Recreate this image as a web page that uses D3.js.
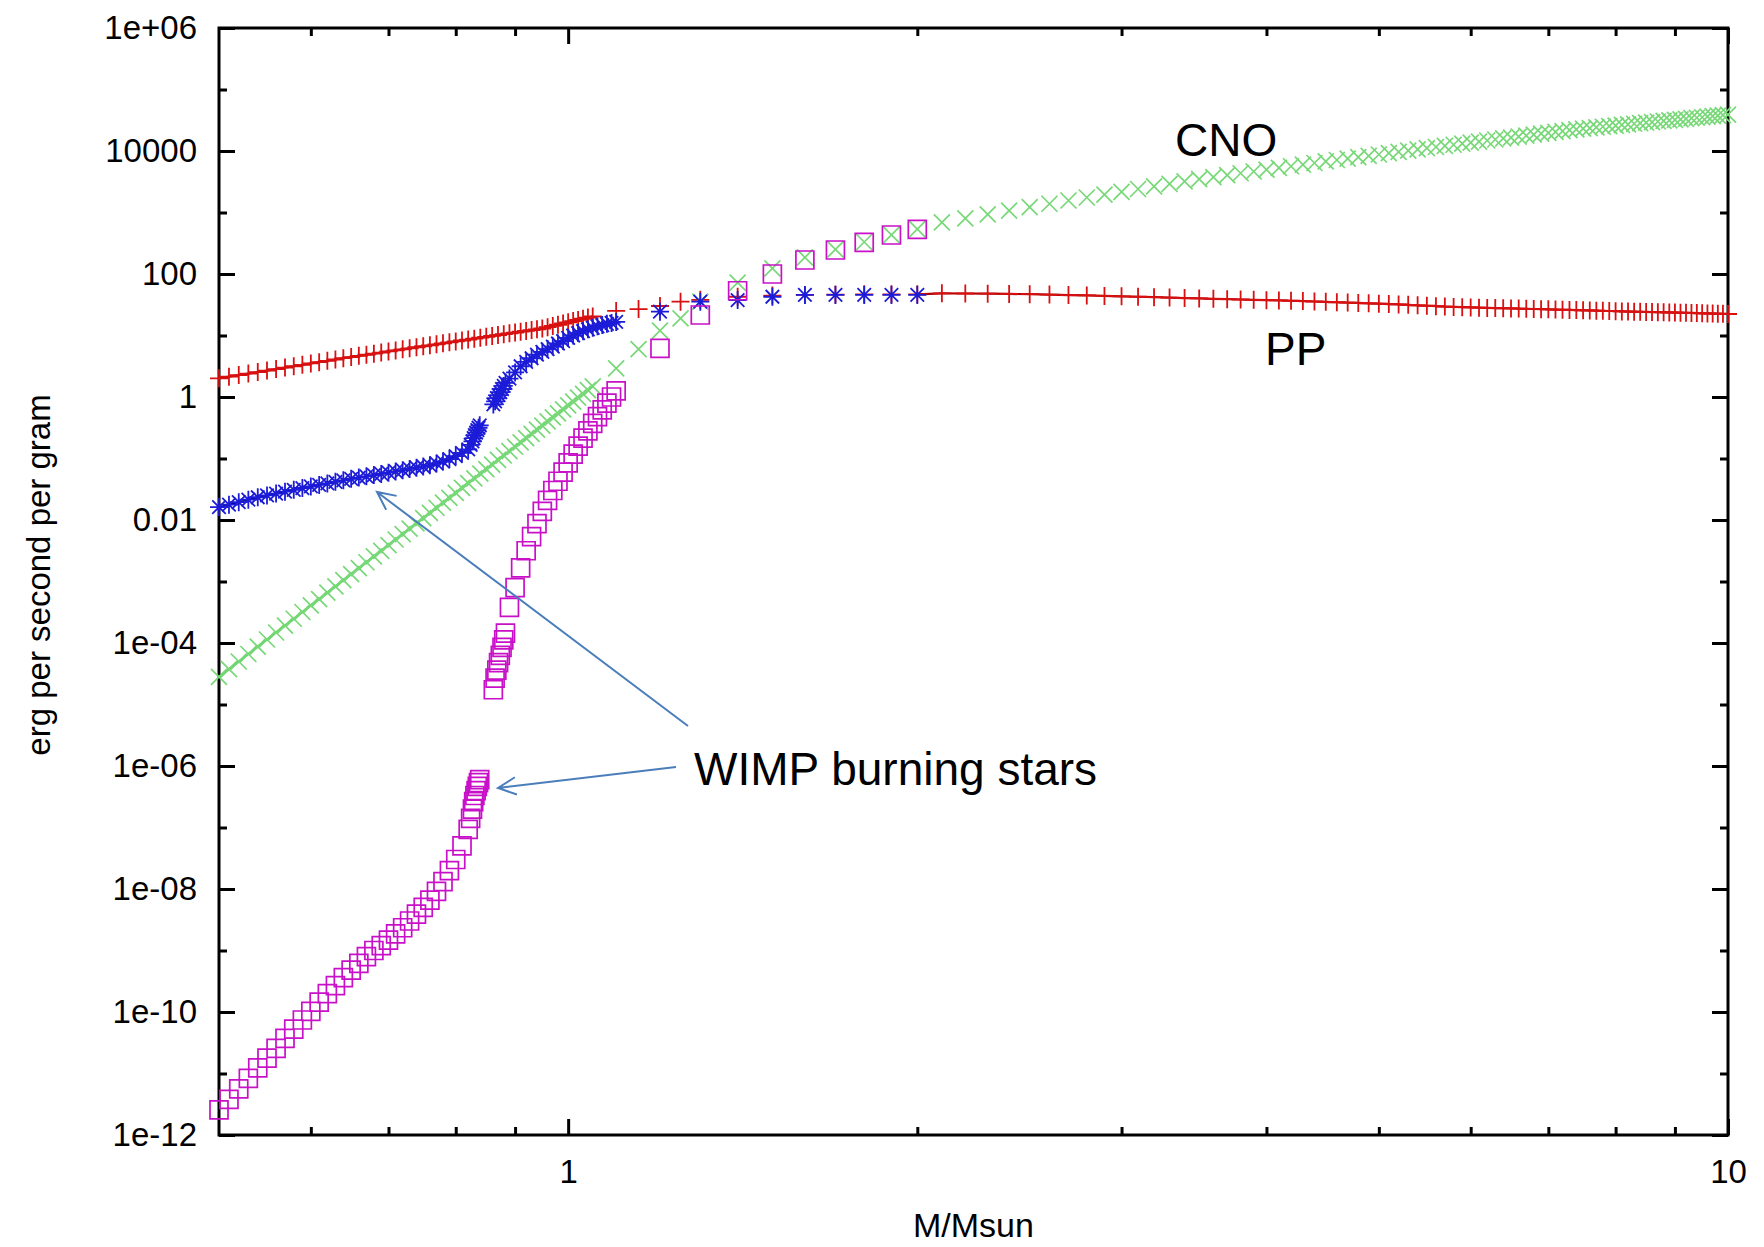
<!DOCTYPE html>
<html><head><meta charset="utf-8">
<script src="https://cdn.jsdelivr.net/npm/d3@7"></script>
<style>body{margin:0;background:#fff}svg{display:block}text{font-family:"Liberation Sans",Arial,Helvetica,sans-serif}</style>
</head><body><svg id="c" width="1764" height="1247"></svg>
<script>
// ---------- DATA (energy values given as log10 of erg per second per gram) ----------
const normalMass = [
  0.50,0.51,0.52,0.53,0.54,0.55,0.56,0.57,0.58,0.59,
  0.60,0.61,0.62,0.63,0.64,0.65,0.66,0.67,0.68,0.69,
  0.70,0.71,0.72,0.73,0.74,0.75,0.76,0.77,0.78,0.79,
  0.80,0.81,0.82,0.83,0.84,0.85,0.86,0.87,0.88,0.89,
  0.90,0.91,0.92,0.93,0.94,0.95,0.96,0.97,0.98,0.99,
  1.00,1.01,1.02,1.03,1.04,1.05,
  1.10,1.15,1.20,1.25,1.30,1.40,1.50,1.60,1.70,1.80,1.90,2.00,
  2.1,2.2,2.3,2.4,2.5,2.6,2.7,2.8,2.9,3.0,
  3.1,3.2,3.3,3.4,3.5,3.6,3.7,3.8,3.9,4.0,
  4.1,4.2,4.3,4.4,4.5,4.6,4.7,4.8,4.9,5.0,
  5.1,5.2,5.3,5.4,5.5,5.6,5.7,5.8,5.9,6.0,
  6.1,6.2,6.3,6.4,6.5,6.6,6.7,6.8,6.9,7.0,
  7.1,7.2,7.3,7.4,7.5,7.6,7.7,7.8,7.9,8.0,
  8.1,8.2,8.3,8.4,8.5,8.6,8.7,8.8,8.9,9.0,
  9.1,9.2,9.3,9.4,9.5,9.6,9.7,9.8,9.9,10.0
];
const ppLog = [
  0.304,0.330,0.356,0.381,0.406,0.430,0.454,0.478,0.500,0.523,
  0.546,0.567,0.589,0.610,0.631,0.650,0.669,0.687,0.705,0.723,
  0.741,0.758,0.775,0.792,0.809,0.825,0.841,0.857,0.873,0.889,
  0.904,0.919,0.934,0.949,0.964,0.978,0.993,1.007,1.021,1.035,
  1.048,1.062,1.075,1.088,1.101,1.114,1.135,1.155,1.175,1.195,
  1.214,1.234,1.253,1.272,1.291,1.310,
  1.40,1.43,1.48,1.55,1.58,1.63,1.65,1.66,1.665,1.67,1.67,1.67,
  1.685,1.683,1.680,1.676,1.672,1.665,1.658,1.651,1.644,1.637,
  1.630,1.623,1.616,1.609,1.603,1.597,1.591,1.585,1.580,1.575,
  1.570,1.565,1.559,1.553,1.547,1.541,1.535,1.529,1.523,1.517,
  1.511,1.505,1.498,1.491,1.484,1.477,1.470,1.465,1.461,1.457,
  1.453,1.449,1.446,1.443,1.440,1.437,1.434,1.431,1.428,1.425,
  1.422,1.419,1.416,1.413,1.410,1.407,1.404,1.401,1.398,1.395,
  1.392,1.389,1.387,1.385,1.383,1.381,1.379,1.377,1.375,1.373,
  1.371,1.369,1.367,1.364,1.361,1.359,1.357,1.355,1.353,1.350
];
const cnoLog = [
  -4.550,-4.424,-4.301,-4.179,-4.060,-3.943,-3.829,-3.716,-3.606,-3.496,
  -3.389,-3.285,-3.181,-3.080,-2.978,-2.880,-2.783,-2.687,-2.593,-2.501,
  -2.408,-2.317,-2.229,-2.141,-2.055,-1.968,-1.885,-1.801,-1.719,-1.639,
  -1.558,-1.479,-1.401,-1.323,-1.247,-1.172,-1.098,-1.024,-0.951,-0.879,
  -0.809,-0.738,-0.668,-0.599,-0.532,-0.464,-0.397,-0.331,-0.266,-0.202,
  -0.137,-0.074,-0.011,0.050,0.112,0.173,
  0.467,0.78,1.078,1.28,1.55,1.86,2.09,2.27,2.40,2.52,2.635,2.73,
  2.840,2.906,2.969,3.029,3.086,3.142,3.195,3.244,3.291,3.337,
  3.382,3.424,3.466,3.507,3.543,3.576,3.607,3.638,3.667,3.696,
  3.724,3.752,3.779,3.805,3.830,3.854,3.877,3.899,3.922,3.943,
  3.965,3.986,4.006,4.026,4.046,4.065,4.084,4.102,4.120,4.137,
  4.154,4.171,4.187,4.204,4.219,4.235,4.251,4.266,4.281,4.295,
  4.310,4.324,4.339,4.352,4.363,4.373,4.384,4.394,4.404,4.414,
  4.424,4.433,4.443,4.452,4.462,4.471,4.480,4.489,4.498,4.507,
  4.515,4.524,4.533,4.541,4.549,4.558,4.566,4.574,4.582,4.590
];
const wimpMass = [
  0.50,0.51,0.52,0.53,0.54,0.55,0.56,0.57,0.58,0.59,
  0.60,0.61,0.62,0.63,0.64,0.65,0.66,0.67,0.68,0.69,
  0.70,0.71,0.72,0.73,0.74,0.75,0.76,0.77,0.78,0.79,
  0.80,0.81,0.82,
  0.824,0.827,0.829,0.831,0.833,0.835,0.837,0.839,
  0.862,0.865,0.868,0.871,0.874,0.877,0.880,0.883,
  0.89,0.90,0.91,0.92,0.93,0.94,0.95,0.96,0.97,0.98,0.99,
  1.00,1.01,1.02,1.03,1.04,1.05,1.06,1.07,1.08,1.09,1.10,
  1.2,1.3,1.4,1.5,1.6,1.7,1.8,1.9,2.0
];
const wimpPPLog = [
  -1.79,-1.75,-1.71,-1.67,-1.63,-1.60,-1.57,-1.54,-1.51,-1.48,
  -1.455,-1.43,-1.405,-1.38,-1.355,-1.33,-1.31,-1.29,-1.27,-1.25,
  -1.23,-1.21,-1.19,-1.17,-1.15,-1.13,-1.11,-1.08,-1.05,-1.01,
  -0.96,-0.91,-0.85,
  -0.78,-0.72,-0.67,-0.62,-0.58,-0.54,-0.50,-0.46,
  -0.12,-0.07,-0.02,0.03,0.08,0.13,0.18,0.23,
  0.30,0.40,0.50,0.57,0.63,0.69,0.735,0.78,0.82,0.87,0.91,
  0.96,1.00,1.04,1.07,1.10,1.125,1.15,1.17,1.19,1.205,1.22,
  1.387,1.55,1.577,1.63,1.659,1.66,1.66,1.66,1.66
];
const wimpCNOLog = [
  -11.59,-11.42,-11.25,-11.08,-10.91,-10.75,-10.59,-10.43,-10.28,-10.13,
  -9.99,-9.84,-9.70,-9.57,-9.44,-9.32,-9.21,-9.10,-9.00,-8.92,
  -8.83,-8.73,-8.63,-8.52,-8.41,-8.30,-8.18,-8.04,-7.88,-7.70,
  -7.52,-7.30,-7.03,
  -6.85,-6.70,-6.58,-6.48,-6.40,-6.33,-6.27,-6.22,
  -4.76,-4.57,-4.44,-4.32,-4.20,-4.07,-3.95,-3.84,
  -3.42,-3.10,-2.78,-2.50,-2.27,-2.06,-1.86,-1.68,-1.52,-1.37,-1.22,
  -1.07,-0.93,-0.80,-0.67,-0.55,-0.43,-0.32,-0.21,-0.10,0.00,0.10,
  0.792,1.333,1.728,2.0,2.228,2.39,2.515,2.634,2.727
];
const yMajorTicks = [1e-12,1e-10,1e-8,1e-6,1e-4,1e-2,1,1e2,1e4,1e6];
const yTickLabels = ["1e-12","1e-10","1e-08","1e-06","1e-04","0.01","1","100","10000","1e+06"];
const yMinorTicks = [1e-11,1e-9,1e-7,1e-5,1e-3,1e-1,1e1,1e3,1e5];
const xMajorTicks = [1,10];
const xTickLabels = ["1","10"];
const xMinorTicks = [0.6,0.7,0.8,0.9,2,3,4,5,6,7,8,9];
const xTitle = "M/Msun";
const yTitle = "erg per second per gram";
const annotations = ["CNO","PP","WIMP burning stars"];

// ---------- CHART ----------
const svg = d3.select("#c");
const L=219, R=1728, T=28, B=1135;
svg.append("rect").attr("width",1764).attr("height",1247).attr("fill","#fff");

const x = d3.scaleLog().domain([0.5,10]).range([L,R]);
const y = d3.scaleLog().domain([1e-12,1e6]).range([B,T]);

function styleAxis(g){
  g.select(".domain").remove();
  g.selectAll(".tick line").attr("stroke","#000").attr("stroke-width",3);
  g.selectAll(".tick text").attr("fill","#000").attr("font-size",33)
   .attr("font-family",'"Liberation Sans",Arial,sans-serif');
}
svg.append("g").attr("transform",`translate(${L},0)`)
  .call(d3.axisLeft(y).tickValues(yMajorTicks).tickSize(-16).tickPadding(22).tickFormat((d,i)=>yTickLabels[i])).call(styleAxis);
svg.append("g").attr("transform",`translate(${L},0)`)
  .call(d3.axisLeft(y).tickValues(yMinorTicks).tickSize(-8).tickFormat("")).call(styleAxis);
svg.append("g").attr("transform",`translate(${R},0)`)
  .call(d3.axisRight(y).tickValues(yMajorTicks).tickSize(-16).tickFormat("")).call(styleAxis);
svg.append("g").attr("transform",`translate(${R},0)`)
  .call(d3.axisRight(y).tickValues(yMinorTicks).tickSize(-8).tickFormat("")).call(styleAxis);
svg.append("g").attr("transform",`translate(0,${B})`)
  .call(d3.axisBottom(x).tickValues(xMajorTicks).tickSize(-16).tickPadding(25).tickFormat((d,i)=>xTickLabels[i])).call(styleAxis);
svg.append("g").attr("transform",`translate(0,${B})`)
  .call(d3.axisBottom(x).tickValues(xMinorTicks).tickSize(-8).tickFormat("")).call(styleAxis);
svg.append("g").attr("transform",`translate(0,${T})`)
  .call(d3.axisTop(x).tickValues(xMajorTicks).tickSize(-16).tickFormat("")).call(styleAxis);
svg.append("g").attr("transform",`translate(0,${T})`)
  .call(d3.axisTop(x).tickValues(xMinorTicks).tickSize(-8).tickFormat("")).call(styleAxis);

svg.append("rect").attr("x",L).attr("y",T).attr("width",R-L).attr("height",B-T)
  .attr("fill","none").attr("stroke","#000").attr("stroke-width",3);

svg.append("text").attr("x",(L+R)/2).attr("y",1237).attr("text-anchor","middle")
  .attr("font-size",34).text(xTitle);
svg.append("text").attr("transform","translate(50,575) rotate(-90)").attr("text-anchor","middle")
  .attr("font-size",33).text(yTitle);

function pts(mass, logs){ return mass.map((m,i)=>({m, v: Math.pow(10, logs[i])})); }
function segments(p, connect){
  const segs=[]; let cur=[p[0]];
  for(let i=1;i<p.length;i++){
    if(connect(p[i-1],p[i])) cur.push(p[i]); else { segs.push(cur); cur=[p[i]]; }
  }
  segs.push(cur); return segs.filter(s=>s.length>1);
}
const line = d3.line().x(d=>x(d.m)).y(d=>y(d.v));
const dense = (a,b)=> b.m-a.m <= 0.0105;

const markers = {
  plus:(cx,cy,s)=>`M${cx-s},${cy}H${cx+s}M${cx},${cy-s}V${cy+s}`,
  cross:(cx,cy,s)=>`M${cx-s},${cy-s}L${cx+s},${cy+s}M${cx-s},${cy+s}L${cx+s},${cy-s}`,
  star:(cx,cy,s)=>`M${cx-s},${cy}H${cx+s}M${cx},${cy-s}V${cy+s}M${cx-s*0.75},${cy-s*0.75}L${cx+s*0.75},${cy+s*0.75}M${cx-s*0.75},${cy+s*0.75}L${cx+s*0.75},${cy-s*0.75}`,
  square:(cx,cy,s)=>`M${cx-s},${cy-s}H${cx+s}V${cy+s}H${cx-s}Z`
};

function drawSeries(p, opt){
  const g = svg.append("g");
  if(opt.connect){
    g.selectAll("path.ln").data(segments(p,opt.connect)).join("path").attr("class","ln")
      .attr("d",line).attr("fill","none").attr("stroke",opt.lineColor).attr("stroke-width",opt.lineWidth);
  }
  g.selectAll("path.mk").data(p).join("path").attr("class","mk")
    .attr("d",d=>markers[opt.shape](x(d.m),y(d.v),opt.size))
    .attr("fill","none").attr("stroke",opt.color).attr("stroke-width",opt.width);
}

const ppPts = pts(normalMass, ppLog);
const cnoPts = pts(normalMass, cnoLog);
const wppPts = pts(wimpMass, wimpPPLog);
const wcnoPts = pts(wimpMass, wimpCNOLog);

drawSeries(ppPts,{shape:"plus",size:9,color:"#d81010",width:1.8,lineColor:"#b00000",lineWidth:2.2,
  connect:(a,b)=> dense(a,b) || (a.m>=1.999 && b.m-a.m<=0.101)});
drawSeries(cnoPts,{shape:"cross",size:8,color:"#78d878",width:1.7,lineColor:"#18c018",lineWidth:2.2,connect:dense});
drawSeries(wppPts,{shape:"star",size:9,color:"#1c1cd8",width:1.8,lineColor:"#000090",lineWidth:1.8,connect:dense});
drawSeries(wcnoPts,{shape:"square",size:9,color:"#c810c8",width:1.7});

svg.append("text").attr("x",1175).attr("y",156).attr("font-size",46).text(annotations[0]);
svg.append("text").attr("x",1265).attr("y",365).attr("font-size",46).text(annotations[1]);
svg.append("text").attr("x",694).attr("y",785).attr("font-size",46).text(annotations[2]);

function arrow(x1,y1,x2,y2){
  const ang=Math.atan2(y1-y2,x1-x2), h=20, a=0.45;
  const p=`M${x1},${y1}L${x2},${y2}M${x2+h*Math.cos(ang+a)},${y2+h*Math.sin(ang+a)}L${x2},${y2}L${x2+h*Math.cos(ang-a)},${y2+h*Math.sin(ang-a)}`;
  svg.append("path").attr("d",p).attr("fill","none").attr("stroke","#4a7ebb").attr("stroke-width",2);
}
arrow(688,726,377,492);
arrow(676,767,498,788);
</script></body></html>
